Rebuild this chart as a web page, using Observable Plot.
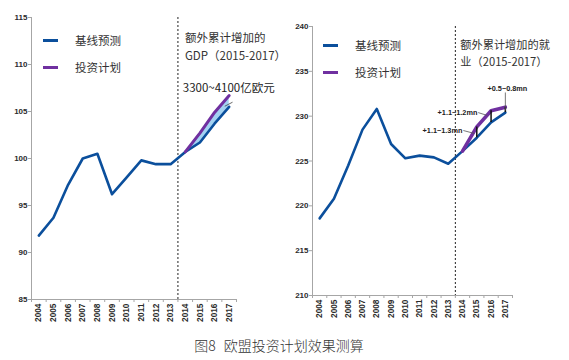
<!DOCTYPE html>
<html>
<head>
<meta charset="utf-8">
<script src="https://cdn.jsdelivr.net/npm/d3@7"></script>
<script src="https://cdn.jsdelivr.net/npm/@observablehq/plot@0.6"></script>
<style>
  html, body { margin: 0; padding: 0; background: #fff; }
  #wrap { position: relative; width: 569px; height: 360px; overflow: hidden; font-family: "Noto Sans CJK SC", "Noto Sans", sans-serif; }
  .panel { position: absolute; top: 0; }
  .leg { position: absolute; display: flex; align-items: center; font-size: 11.5px; color: #333; white-space: nowrap; }
  .sw { display: inline-block; width: 15px; height: 3px; margin-right: 17px; }
  #caption { position: absolute; top: 335px; left: 0; width: 558px; text-align: center; font-size: 14px; color: #333; font-weight: 300; word-spacing: 5px; }
</style>
</head>
<body>
<div id="wrap">
  <div id="left" class="panel" style="left:0"></div>
  <div id="right" class="panel" style="left:285px"></div>
  <div id="caption"></div>
</div>
<script>
// ---- data ----
const years = [2004, 2005, 2006, 2007, 2008, 2009, 2010, 2011, 2012, 2013, 2014, 2015, 2016, 2017];
const gdpBaseline = [91.8, 93.7, 97.2, 100.0, 100.5, 96.2, 98.0, 99.8, 99.4, 99.4, 100.7, 101.7, 103.7, 105.5];
const gdpPlan = [null, null, null, null, null, null, null, null, null, null, 100.7, 102.7, 104.9, 106.7];
const jobsBaseline = [218.6, 220.8, 224.5, 228.5, 230.8, 226.9, 225.3, 225.6, 225.4, 224.7, 226.1, 227.6, 229.3, 230.4];
const jobsPlan = [null, null, null, null, null, null, null, null, null, null, 226.1, 228.8, 230.6, 231.0];
const gdpTicks = [85, 90, 95, 100, 105, 110, 115];
const jobsTicks = [210, 215, 220, 225, 230, 235, 240];
const seriesNames = ["基线预测", "投资计划"];
const seriesColors = ["#0b4f9c", "#7030a0"];
const projectionStart = 2013.5;
const gdpHeader = ["额外累计增加的", "GDP（2015-2017）"];
const jobsHeader = ["额外累计增加的就", "业（2015-2017）"];
const gdpNote = {year: 2013.83, value: 107.45, label: "3300~4100亿欧元"};
const gdpNoteLeader = {x1: 2016.7, y1: 105.56, x2: 2017.23, y2: 105.99};
const jobsNotesMiddle = [{year: 2017.14, value: 233.09, label: "+0.5~0.8mn"}];
const jobsNotesEnd = [
  {year: 2015.04, value: 230.41, label: "+1.1~1.2mn"},
  {year: 2013.99, value: 228.41, label: "+1.1~1.3mn"}
];
const jobsLeaders = [
  {x1: 2017.0, y1: 232.64, x2: 2017.0, y2: 230.64},
  {x1: 2015.1, y1: 230.4, x2: 2015.73, y2: 230.08},
  {x1: 2014.06, y1: 228.4, x2: 2014.83, y2: 228.07}
];
const captionText = "图8 欧盟投资计划效果测算";

// ---- build ----
const rows = (base, plan) => years.map((y, i) => ({year: y, base: base[i], plan: plan[i]}));
const gdpRows = rows(gdpBaseline, gdpPlan);
const jobsRows = rows(jobsBaseline, jobsPlan);
const bounds = years.map(y => y - 0.5).concat([years[years.length - 1] + 0.5]);
const axisGray = "#a6a6a6";
const labelColor = "#2b2b2b";
const cjk = "Noto Sans CJK SC";
const domainX = [2003.5, 2017.5];

function baseMarks(rowsData, ticks, domainY, band, planWidth) {
  const proj = rowsData.filter(d => d.plan != null);
  const marks = [
    Plot.axisY({ticks, tickSize: 3, tickPadding: 1, label: null, stroke: axisGray, fill: labelColor,
      fontSize: 8, fontWeight: "bold", fontFamily: "Liberation Sans"}),
    Plot.axisX({ticks: years, tickSize: 0, tickPadding: 4, tickRotate: -90, label: null, fill: labelColor,
      fontSize: 8.3, fontWeight: "bold", fontFamily: "Liberation Sans", tickFormat: d => String(d)}),
    Plot.axisX({ticks: bounds, tickSize: 3, label: null, stroke: axisGray, tickFormat: () => ""}),
    Plot.ruleX([domainX[0]], {stroke: axisGray, strokeWidth: 1}),
    Plot.ruleY([domainY[0]], {stroke: axisGray, strokeWidth: 1}),
    Plot.ruleX([projectionStart], {stroke: "#222", strokeWidth: 1, strokeDasharray: "2,2"}),
  ];
  if (band) marks.push(Plot.areaY(proj, {x: "year", y1: "base", y2: "plan", fill: "#a3d2f2"}));
  marks.push(Plot.lineY(rowsData, {x: "year", y: "base", stroke: seriesColors[0], strokeWidth: 2.6}));
  marks.push(Plot.lineY(proj, {x: "year", y: "plan", stroke: seriesColors[1], strokeWidth: planWidth}));
  return {marks, proj};
}

function headerMarks(lines, dx, dys, size) {
  return lines.map((t, i) => Plot.text([t], {x: () => projectionStart, frameAnchor: "top", dx, dy: dys[i],
    textAnchor: "start", lineAnchor: "middle", fontSize: size, fontFamily: cjk, fill: "#333"}));
}

// Left: GDP
{
  const domainY = [85, 115];
  const p = baseMarks(gdpRows, gdpTicks, domainY, true, 3);
  const marks = p.marks.concat(headerMarks(gdpHeader, 7, [21, 39], 11.5), [
    Plot.text([gdpNote], {x: "year", y: "value", text: "label", textAnchor: "start", lineAnchor: "middle",
      fontSize: 11.5, fontFamily: cjk, fill: "#222"}),
    Plot.link([gdpNoteLeader], {x1: "x1", y1: "y1", x2: "x2", y2: "y2", stroke: "#444", strokeWidth: 0.8})
  ]);
  const chart = Plot.plot({
    width: 285, height: 330, marginLeft: 31, marginRight: 49, marginTop: 17, marginBottom: 31,
    x: {type: "linear", domain: domainX, axis: null},
    y: {domain: domainY, axis: null},
    style: {fontFamily: "Liberation Sans", background: "white", overflow: "visible"},
    marks
  });
  document.getElementById("left").appendChild(chart);
}

// Right: jobs
{
  const domainY = [210, 240];
  const p = baseMarks(jobsRows, jobsTicks, domainY, false, 3.6);
  const marks = p.marks.concat(headerMarks(jobsHeader, 5, [19, 36], 11.2), [
    Plot.ruleX(p.proj.filter(d => d.year > 2014), {x: "year", y1: "base", y2: "plan", stroke: "#111", strokeWidth: 1.5}),
    Plot.link(jobsLeaders, {x1: "x1", y1: "y1", x2: "x2", y2: "y2", stroke: "#555", strokeWidth: 0.8}),
    Plot.text(jobsNotesMiddle, {x: "year", y: "value", text: "label", textAnchor: "middle",
      lineAnchor: "middle", fontSize: 7.3, fontWeight: "bold", fontFamily: "Liberation Sans", fill: "#222"}),
    Plot.text(jobsNotesEnd, {x: "year", y: "value", text: "label", textAnchor: "end",
      lineAnchor: "middle", fontSize: 7.3, fontWeight: "bold", fontFamily: "Liberation Sans", fill: "#222"})
  ]);
  const chart = Plot.plot({
    width: 284, height: 330, marginLeft: 27, marginRight: 57, marginTop: 26, marginBottom: 35,
    x: {type: "linear", domain: domainX, axis: null},
    y: {domain: domainY, axis: null},
    style: {fontFamily: "Liberation Sans", background: "white", overflow: "visible"},
    marks
  });
  document.getElementById("right").appendChild(chart);
}

// Legends (HTML overlay)
function legend(left, tops) {
  const wrap = document.getElementById("wrap");
  seriesNames.forEach((name, i) => {
    const d = document.createElement("div");
    d.className = "leg";
    d.style.left = left + "px";
    d.style.top = (tops[i] - 9) + "px";
    d.style.height = "18px";
    const sw = document.createElement("span");
    sw.className = "sw";
    sw.style.background = seriesColors[i];
    d.appendChild(sw);
    d.appendChild(document.createTextNode(name));
    wrap.appendChild(d);
  });
}
legend(43, [40, 67]);
legend(323, [45, 72]);
document.getElementById("caption").textContent = captionText;
</script>
</body>
</html>
